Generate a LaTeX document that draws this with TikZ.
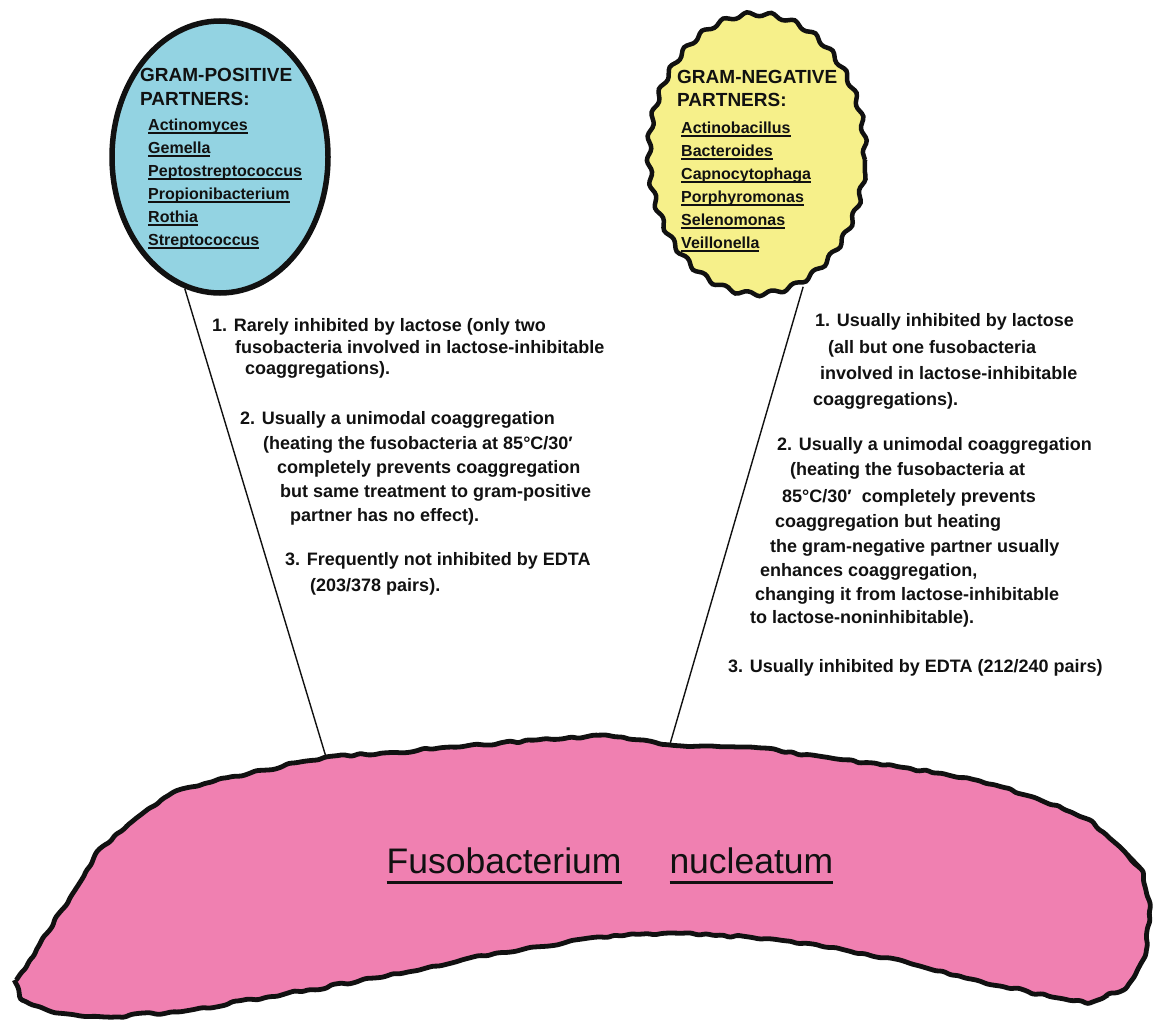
\documentclass[tikz,border=0pt]{standalone}
\usepackage{fontspec}
\setmainfont{Liberation Sans}
\usetikzlibrary{shapes.geometric,decorations.pathmorphing}
\definecolor{ink}{HTML}{111111}
\definecolor{gpos}{HTML}{93D3E2}
\definecolor{gneg}{HTML}{F6F08A}
\definecolor{fuso}{HTML}{F080B1}
\newcommand{\ulbar}[3]{\setbox0=\hbox{#3}\rlap{\rule[#1]{\wd0}{#2}}\box0}
\tikzset{
  cell/.style={ellipse,inner sep=0pt,minimum width=216pt,minimum height=272pt},
  head/.style={anchor=base west,inner sep=0pt,font=\bfseries\fontsize{19}{23}\selectfont,text=ink},
  spec/.style={anchor=base west,inner sep=0pt,font=\bfseries\fontsize{16}{20}\selectfont,text=ink},
  body/.style={anchor=base west,inner sep=0pt,font=\bfseries\fontsize{18}{22}\selectfont,text=ink},
  title/.style={anchor=base,inner sep=0pt,font=\fontsize{35.5}{40}\selectfont,text=ink},
  link/.style={draw=ink,line width=1.4pt},
  wavy/.style={decorate,decoration={snake,segment length=24pt,amplitude=2.2pt}},
  rough/.style={decorate,decoration={random steps,segment length=8pt,amplitude=1.6pt},rounded corners=2.5pt},
}
\begin{document}
\begin{tikzpicture}[x=1pt,y=-1pt]
  \useasboundingbox (0,0) rectangle (1153,1028);
  % partner cells
  \node[cell,fill=gpos,draw=ink,line width=5.5pt] (gp) at (220,157) {};
  \node[cell,minimum height=280pt] (gn) at (757,160) {};
  \filldraw[wavy,fill=gneg,draw=ink,line width=4.5pt] (gn.center) ellipse [x radius=108pt,y radius=140pt];
  \foreach \x/\y/\t [count=\i] in {140/81/{GRAM-POSITIVE},140/105/{PARTNERS:},677/83/{GRAM-NEGATIVE},677/106/{PARTNERS:}}
    \node[head] (hd\i) at (\x,\y) {\t};
  \foreach \t [count=\i] in {Actinomyces,Gemella,Peptostreptococcus,Propionibacterium,Rothia,Streptococcus}
    \node[spec] (gps\i) at (148,{107+23*\i}) {\ulbar{-4pt}{1.8pt}{\t}};
  \foreach \t [count=\i] in {Actinobacillus,Bacteroides,Capnocytophaga,Porphyromonas,Selenomonas,Veillonella}
    \node[spec] (gns\i) at (681,{110+23*\i}) {\ulbar{-4pt}{1.8pt}{\t}};
  % connectors down to the cell
  \coordinate (jl) at (326,757);
  \coordinate (jr) at (670,744);
  \draw[link] (gp.-105.5) -- (jl);
  \draw[link] (gn.-70.5) -- (jr);
  % fusobacterium
  \pgfmathsetseed{5}
  \filldraw[rough,fill=fuso,draw=ink,line width=4.8pt]
    (15,982) -- (38,947) -- (77,887) -- (96,853) -- (134,820) -- (172,793) -- (230,777) -- (326,757)
    -- (383,753) -- (459,747) -- (536,740) -- (603,735) -- (670,745) -- (749,747) -- (825,757)
    -- (900,767) -- (976,780) -- (1033,797) -- (1090,820) -- (1120,847) -- (1142,870) -- (1150,903)
    -- (1146,953) -- (1127,987) -- (1090,1003) -- (1052,997) -- (976,980) -- (900,960) -- (825,947)
    -- (749,937) -- (673,933) -- (598,937) -- (497,953) -- (383,977) -- (268,997) -- (191,1010)
    -- (115,1017) -- (57,1013) -- (22,1000) -- cycle;
  \node[title] (fn) at (610,873) {\ulbar{-11pt}{3pt}{Fusobacterium}\hspace{48pt}\ulbar{-11pt}{3pt}{nucleatum}};
  % gram-positive notes
  \foreach \x/\y/\t [count=\i] in {
    212/331/{1. Rarely inhibited by lactose (only two},
    235/353/{fusobacteria involved in lactose-inhibitable},
    245/374/{coaggregations).},
    240/424/{2. Usually a unimodal coaggregation},
    263/449/{(heating the fusobacteria at 85°C/30′},
    277/473/{completely prevents coaggregation},
    280/497/{but same treatment to gram-positive},
    290/521/{partner has no effect).},
    285/565/{3. Frequently not inhibited by EDTA},
    310/591/{(203/378 pairs).}}
    \node[body] (pl\i) at (\x,\y) {\t};
  % gram-negative notes
  \foreach \x/\y/\t [count=\i] in {
    815/326/{1. Usually inhibited by lactose},
    828/353/{(all but one fusobacteria},
    820/379/{involved in lactose-inhibitable},
    813/405/{coaggregations).},
    777/450/{2. Usually a unimodal coaggregation},
    790/475/{(heating the fusobacteria at},
    782/502/{85°C/30′\ \ completely prevents},
    775/527/{coaggregation but heating},
    770/552/{the gram-negative partner usually},
    760/576/{enhances coaggregation,},
    755/600/{changing it from lactose-inhibitable},
    750/623/{to lactose-noninhibitable).},
    728/672/{3. Usually inhibited by EDTA (212/240 pairs)}}
    \node[body] (nl\i) at (\x,\y) {\t};
\end{tikzpicture}
\end{document}
